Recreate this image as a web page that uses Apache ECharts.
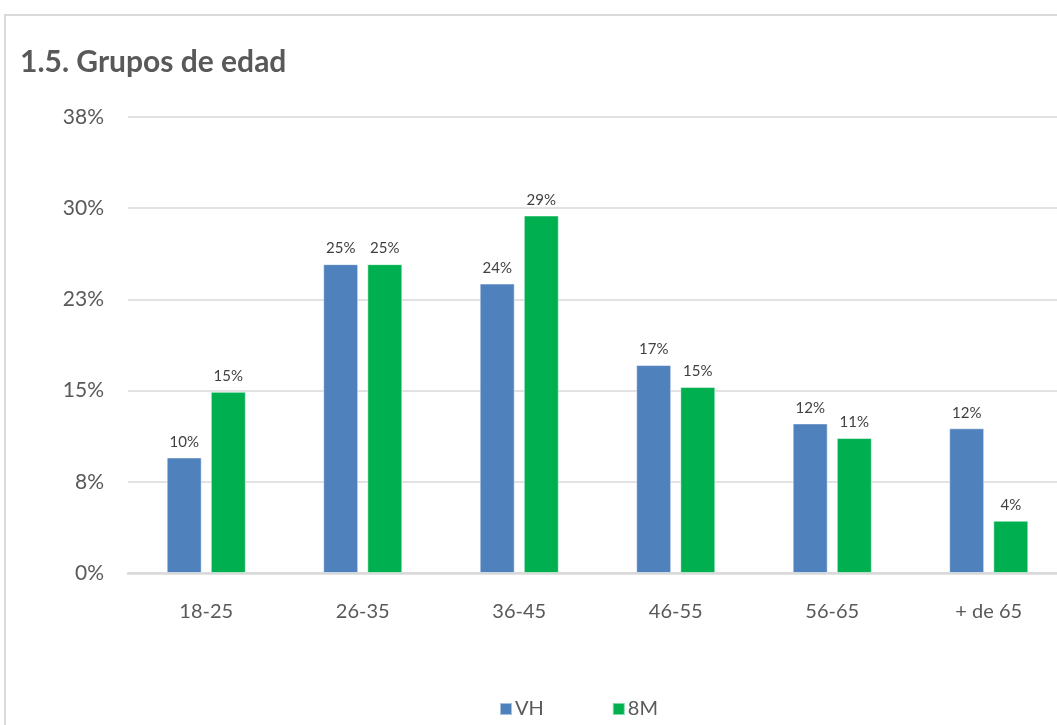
<!DOCTYPE html>
<html>
<head>
<meta charset="utf-8">
<style>
  html, body { margin: 0; padding: 0; background: #ffffff; overflow: hidden; }
  /* the plot runs a little past the right edge of the window */
  #chart { width: 1080px; height: 725px; }
</style>
<script src="https://cdn.jsdelivr.net/npm/echarts@6/dist/echarts.min.js"></script>
</head>
<body>
<div id="chart"></div>
<script>
// Age groups and the share of each group for both series (percent)
const categories = ['18-25', '26-35', '36-45', '46-55', '56-65', '+ de 65'];
const vhValues = [9.5, 25.4, 23.8, 17.1, 12.3, 11.9];
const m8Values = [14.9, 25.4, 29.4, 15.3, 11.1, 4.3];
const seriesNames = ['VH', '8M'];
const yTicks = [0, 7.5, 15, 22.5, 30, 37.5];

const textColor = '#595959';
const fontFamily = 'Lato, "Noto Sans", sans-serif';

const chart = echarts.init(document.getElementById('chart'), null, { renderer: 'canvas' });

const pct = v => Math.round(v) + '%';

chart.setOption({
  backgroundColor: '#ffffff',
  animation: false,
  title: {
    text: '1.5. Grupos de edad',
    left: 15,
    top: 42,
    textStyle: { color: textColor, fontSize: 30, fontWeight: 'bold', fontFamily: fontFamily }
  },
  graphic: [{
    type: 'rect',
    shape: { x: 5, y: 15, width: 1200, height: 900 },
    style: { fill: 'none', stroke: '#d9d9d9', lineWidth: 2 },
    silent: true,
    z: -1
  }],
  legend: {
    data: seriesNames,
    left: 494,
    top: 694,
    itemWidth: 12,
    itemHeight: 12,
    itemGap: 68,
    icon: 'rect',
    textStyle: { color: textColor, fontSize: 20, fontFamily: fontFamily, padding: [0, 0, 0, -2] }
  },
  grid: {
    left: 128,
    top: 117,
    width: 939,
    height: 456,
    containLabel: false
  },
  xAxis: {
    type: 'category',
    data: categories,
    axisLine: { lineStyle: { color: '#d9d9d9', width: 2.5 } },
    axisTick: { show: false },
    axisLabel: { color: textColor, fontSize: 20, fontFamily: fontFamily, margin: 29 }
  },
  yAxis: {
    type: 'value',
    min: yTicks[0],
    max: yTicks[yTicks.length - 1],
    interval: yTicks[1] - yTicks[0],
    axisLine: { show: false },
    axisTick: { show: false },
    splitLine: { lineStyle: { color: '#d9d9d9', width: 1.6 } },
    axisLabel: { color: textColor, fontSize: 21, fontFamily: fontFamily, margin: 24, formatter: pct }
  },
  series: [
    {
      name: seriesNames[0],
      type: 'bar',
      data: vhValues,
      barWidth: 35,
      barGap: '26%',
      itemStyle: { color: '#4f81bd', borderColor: 'rgba(255,255,255,0.5)', borderWidth: 1 },
      label: {
        show: true, position: 'top', distance: 8,
        color: '#404040', fontSize: 15, fontFamily: fontFamily,
        formatter: p => pct(p.value)
      }
    },
    {
      name: seriesNames[1],
      type: 'bar',
      data: m8Values,
      barWidth: 35,
      itemStyle: { color: '#00b050', borderColor: 'rgba(255,255,255,0.5)', borderWidth: 1 },
      label: {
        show: true, position: 'top', distance: 8,
        color: '#404040', fontSize: 15, fontFamily: fontFamily,
        formatter: p => pct(p.value)
      }
    }
  ]
});
</script>
</body>
</html>
